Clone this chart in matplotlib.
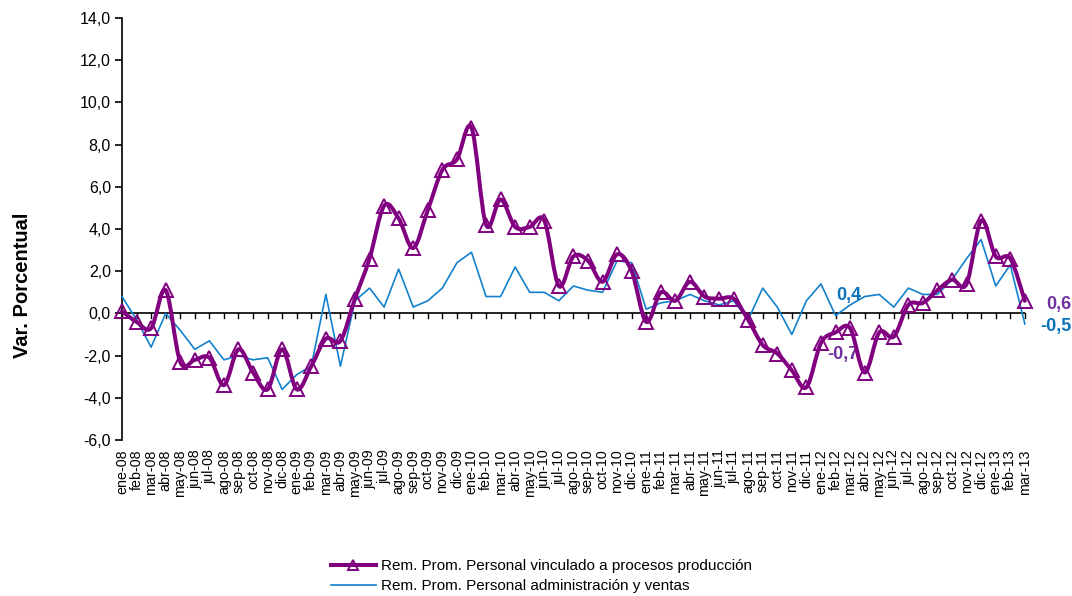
import matplotlib
matplotlib.use("Agg")
import matplotlib.pyplot as plt
from matplotlib.path import Path
from matplotlib.patches import PathPatch
from matplotlib.lines import Line2D

plt.rcParams['font.family'] = ['Liberation Sans', 'DejaVu Sans']

months = ["ene", "feb", "mar", "abr", "may", "jun", "jul", "ago", "sep", "oct", "nov", "dic"]
categories = [f"{m}-{y:02d}" for y in range(8, 14) for m in months][:63]

produccion = [0.1, -0.4, -0.7, 1.1, -2.3, -2.2, -2.1, -3.4, -1.7, -2.8, -3.6, -1.7,
              -3.6, -2.5, -1.2, -1.3, 0.7, 2.6, 5.1, 4.5, 3.1, 4.9, 6.8, 7.3,
              8.8, 4.2, 5.4, 4.1, 4.1, 4.4, 1.3, 2.7, 2.5, 1.5, 2.8, 2.0,
              -0.4, 1.0, 0.6, 1.5, 0.8, 0.7, 0.7, -0.3, -1.5, -1.9, -2.7, -3.5,
              -1.4, -0.9, -0.7, -2.8, -0.9, -1.1, 0.4, 0.5, 1.1, 1.6, 1.4, 4.4,
              2.7, 2.6, 0.6]
administracion = [0.8, -0.3, -1.6, 0.0, -0.8, -1.7, -1.3, -2.2, -2.0, -2.2, -2.1, -3.6,
                  -2.9, -2.5, 0.9, -2.5, 0.6, 1.2, 0.3, 2.1, 0.3, 0.6, 1.2, 2.4,
                  2.9, 0.8, 0.8, 2.2, 1.0, 1.0, 0.6, 1.3, 1.1, 1.0, 2.5, 2.4,
                  0.2, 0.5, 0.6, 0.9, 0.6, 0.4, 0.6, -0.3, 1.2, 0.3, -1.0, 0.6,
                  1.4, -0.1, 0.4, 0.8, 0.9, 0.3, 1.2, 0.9, 0.9, 1.6, 2.6, 3.5,
                  1.3, 2.3, -0.5]
yticks = [-6, -4, -2, 0, 2, 4, 6, 8, 10, 12, 14]
label_prod = "Rem. Prom. Personal vinculado a procesos producción"
label_adm = "Rem. Prom. Personal administración y ventas"

PURPLE = "#800080"
PURPLE_TXT = "#7030A0"
BLUE = "#1281CC"
BLUE_TXT = "#0A72BA"

fig = plt.figure(figsize=(10.72, 5.96), dpi=100)
ax = fig.add_axes([0.1138, 0.2617, 0.956 - 0.1138, 0.9698 - 0.2617])

x = list(range(len(categories)))

# smooth (Bezier) path for production series
verts = [(x[0], produccion[0])]
codes = [Path.MOVETO]
n = len(x)
for i in range(n - 1):
    p0 = (x[i - 1], produccion[i - 1]) if i > 0 else (x[i], produccion[i])
    p1 = (x[i], produccion[i])
    p2 = (x[i + 1], produccion[i + 1])
    p3 = (x[i + 2], produccion[i + 2]) if i + 2 < n else p2
    c1 = (p1[0] + (p2[0] - p0[0]) / 6, p1[1] + (p2[1] - p0[1]) / 6)
    c2 = (p2[0] - (p3[0] - p1[0]) / 6, p2[1] - (p3[1] - p1[1]) / 6)
    verts += [c1, c2, p2]
    codes += [Path.CURVE4] * 3

ax.plot(x, administracion, color=BLUE, lw=1.2, zorder=3, clip_on=False)
ax.add_patch(PathPatch(Path(verts, codes), fill=False, edgecolor=PURPLE, lw=2.9,
                       zorder=4, clip_on=False, capstyle='round', joinstyle='round'))
ax.plot(x, produccion, linestyle='none', marker='^', markersize=10, markerfacecolor='none',
        markeredgecolor=PURPLE, markeredgewidth=1.4, zorder=5, clip_on=False)

ax.set_xlim(0, len(categories) - 1)
ax.set_ylim(-6, 14)
ax.set_yticks(yticks)
ax.set_yticklabels([f"{v:.1f}".replace(".", ",") for v in yticks], fontsize=11.5)

for s in ["top", "right", "bottom"]:
    ax.spines[s].set_visible(False)
ax.spines["left"].set_linewidth(1.2)
ax.tick_params(axis='y', direction='out', length=5, width=1.2, pad=3)

ax.set_xticks(x)
ax.set_xticklabels([])
ax.tick_params(axis='x', length=0)
# zero axis line with ticks
ax.axhline(0, color='black', lw=1.2, zorder=2)
for xi in x:
    ax.plot([xi, xi], [0, -0.22], color='black', lw=1.0, zorder=2, clip_on=False)
for xi, lab in zip(x, categories):
    ax.text(xi, -6.45, lab, rotation=90, ha='center', va='top', fontsize=10.3)

ax.set_ylabel("Var. Porcentual", fontsize=14.5, fontweight='bold')
ax.yaxis.set_label_coords(-0.0997, 0.367)

# annotations
ax.text(49.9, 0.85, "0,4", color=BLUE_TXT, fontsize=13, fontweight='bold', ha='center', va='center')
ax.text(49.5, -1.93, "-0,7", color=PURPLE_TXT, fontsize=13, fontweight='bold', ha='center', va='center')
ax.text(64.3, 0.42, "0,6", color=PURPLE_TXT, fontsize=13, fontweight='bold', ha='center', va='center')
ax.text(64.1, -0.6, "-0,5", color=BLUE_TXT, fontsize=13, fontweight='bold', ha='center', va='center')

handles = [Line2D([], [], color=PURPLE, lw=2.9, marker='^', markersize=7,
                  markerfacecolor='none', markeredgecolor=PURPLE, markeredgewidth=1.4),
           Line2D([], [], color=BLUE, lw=1.2)]
fig.legend(handles, [label_prod, label_adm], loc='center', bbox_to_anchor=(0.505, 0.0336),
           frameon=False, fontsize=11, handlelength=2.95, labelspacing=0.4, handletextpad=0.33,
           borderpad=0.2)

fig.savefig("out.png", dpi=100)
